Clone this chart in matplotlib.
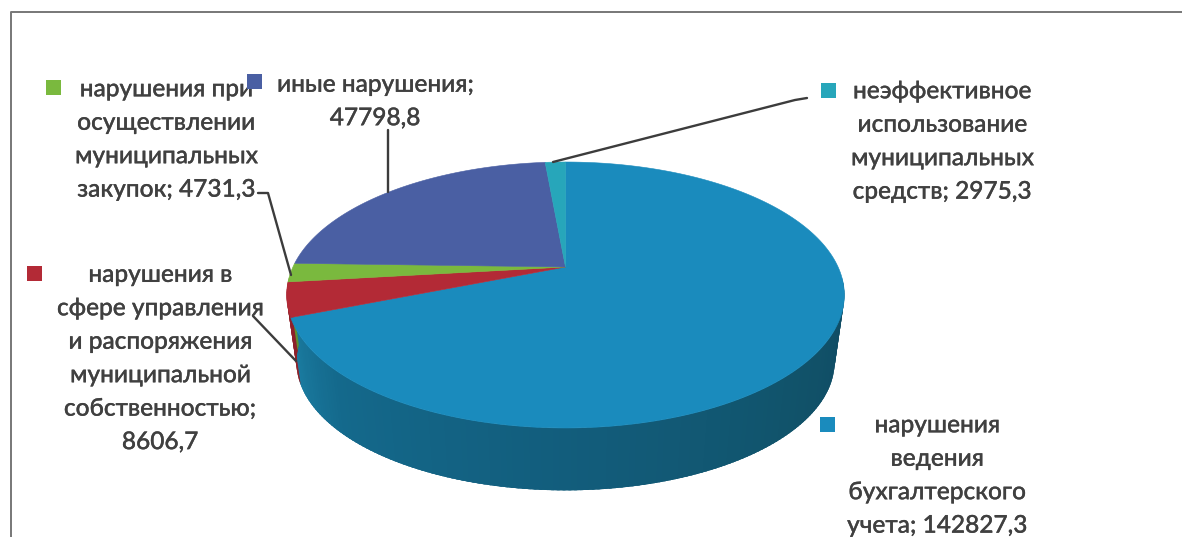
import numpy as np
import matplotlib
matplotlib.use("Agg")
import matplotlib.pyplot as plt
import matplotlib.patheffects as pe
from matplotlib.colors import to_rgb
from matplotlib.patches import Rectangle

categories = [
    "нарушения\nведения\nбухгалтерского\nучета; 142827,3",
    "нарушения в\nсфере управления\nи распоряжения\nмуниципальной\nсобственностью;\n8606,7",
    "нарушения при\nосуществлении\nмуниципальных\nзакупок; 4731,3",
    "иные нарушения;\n47798,8",
    "неэффективное\nиспользование\nмуниципальных\nсредств; 2975,3",
]
values = np.array([142827.3, 8606.7, 4731.3, 47798.8, 2975.3])
colors = ["#1a8bbd", "#b32a36", "#7ab93e", "#4a5fa3", "#27a6ba"]
side_colors = ["#1a6f90", "#8e2029", "#5f9030", "#3a4a80", "#1e8292"]

label_xy = [(937, 475), (160, 358), (166, 139), (375, 101), (942, 141)]
key_xy = [(827, 424), (34, 273), (53, 87), (254, 81), (828, 90)]
leaders = [
    [(253, 316), (296, 361)],
    [(258, 193), (268, 193), (291, 275)],
    [(388, 130), (388, 192)],
    [(807, 98), (795, 100), (553, 162)],
]

W, H = 1182, 537
fig = plt.figure(figsize=(W / 100, H / 100), dpi=100, facecolor="white")
ax = fig.add_axes([0, 0, 1, 1])
ax.set_xlim(0, W)
ax.set_ylim(H, 0)
ax.axis("off")

CX, CY, A, B, K = 565.5, 267.0, 272.6, 127.1, 0.2105
DEPTH, SHRINK = 68.0, 0.965


def project(theta, scale=1.0, dy=0.0):
    u, v = np.sin(theta), np.cos(theta)
    w = 1 + K * v
    return CX + scale * A * u / w, CY + dy - scale * B * v / w


edges = np.concatenate([[0], np.cumsum(values)]) / values.sum() * 2 * np.pi

# side wall, shaded from left (light) to right (dark)
shade_deg = [95, 130, 180, 225, 250]
shade_rgb = np.array([to_rgb(c) for c in ["#0f4a63", "#115269", "#125d7c", "#14698c", "#1b7ea3"]])
step = np.radians(1.0)
thetas = np.arange(np.radians(95), np.radians(263), step)
for t0 in thetas:
    mid = t0 + step / 2
    idx = np.searchsorted(edges, mid) - 1
    shade = [np.interp(np.degrees(mid), shade_deg, shade_rgb[:, c]) for c in range(3)]
    col = shade if idx == 0 else to_rgb(side_colors[idx])
    tt = np.array([t0, t0 + step * 2.5])
    x0, y0 = project(tt)
    x1, y1 = project(tt[::-1], SHRINK, DEPTH)
    ax.fill(np.r_[x0, x1], np.r_[y0, y1], color=tuple(col), lw=0, zorder=2)

# top face
for i, col in enumerate(colors):
    tt = np.linspace(edges[i], edges[i + 1], 200)
    x, y = project(tt)
    ax.fill(np.r_[CX, x], np.r_[CY, y], color=col, lw=0.4, zorder=3)

# leader lines
for pts in leaders:
    xs, ys = zip(*pts)
    ax.plot(xs, ys, color="#3c3c3c", lw=1.7, zorder=4, solid_capstyle="round")

# labels and colour keys
for text, (x, y), (kx, ky), col in zip(categories, label_xy, key_xy, colors):
    ax.text(x, y, text, ha="center", va="center", ma="center", fontsize=17.6,
            family=["Lato", "Open Sans", "DejaVu Sans"], weight="medium",
            color="#404040", linespacing=1.55, zorder=5,
            path_effects=[pe.withStroke(linewidth=0.2, foreground="#404040")])
    ax.add_patch(Rectangle((kx - 7.5, ky - 7.5), 15, 15, color=col, lw=0, zorder=6))

# chart frame
ax.plot([11, 11, W], [H, 12, 12], color="#777777", lw=1.4, zorder=1)

fig.savefig("out.png", dpi=100, facecolor="white")
